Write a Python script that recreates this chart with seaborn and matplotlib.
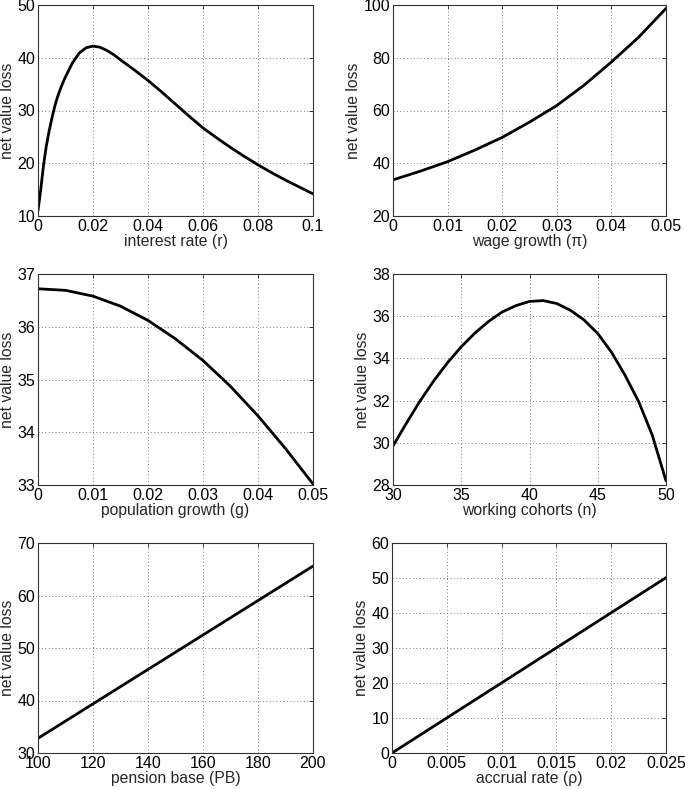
import matplotlib
matplotlib.use("Agg")
import matplotlib.pyplot as plt
import seaborn as sns
import pandas as pd

# interest rate (r)
rate_x = [0, 0.001, 0.002, 0.003, 0.004, 0.005, 0.006, 0.007, 0.008, 0.009, 0.01,
          0.0125, 0.015, 0.0175, 0.02, 0.0225, 0.025, 0.0275, 0.03, 0.035, 0.04,
          0.045, 0.05, 0.055, 0.06, 0.065, 0.07, 0.075, 0.08, 0.085, 0.09, 0.095, 0.1]
rate_y = [11.0, 15.0, 19.6, 23.2, 26.0, 28.4, 30.6, 32.4, 33.9, 35.2, 36.4,
          39.0, 40.9, 41.9, 42.2, 42.0, 41.4, 40.6, 39.6, 37.7, 35.7,
          33.5, 31.2, 28.9, 26.7, 24.8, 23.0, 21.3, 19.7, 18.2, 16.8, 15.5, 14.2]

# wage growth (pi)
wage_x = [0, 0.005, 0.01, 0.015, 0.02, 0.025, 0.03, 0.035, 0.04, 0.045, 0.05]
wage_y = [33.7, 37.0, 40.6, 45.0, 49.8, 55.6, 61.9, 69.6, 78.4, 87.8, 98.7]

# population growth (g)
pop_x = [0, 0.005, 0.01, 0.015, 0.02, 0.025, 0.03, 0.035, 0.04, 0.045, 0.05]
pop_y = [36.72, 36.69, 36.58, 36.39, 36.12, 35.77, 35.36, 34.87, 34.31, 33.69, 33.02]

# working cohorts (n)
cohort_x = list(range(30, 51))
cohort_y = [29.85, 30.95, 32.0, 32.95, 33.8, 34.55, 35.2, 35.75, 36.2, 36.5, 36.7,
            36.74, 36.6, 36.28, 35.82, 35.18, 34.3, 33.2, 31.95, 30.35, 28.2]

# pension base (PB)
pb_x = [100, 120, 140, 160, 180, 200]
pb_y = [32.8, 39.36, 45.92, 52.48, 59.04, 65.6]

# accrual rate (rho)
acc_x = [0, 0.005, 0.01, 0.015, 0.02, 0.025]
acc_y = [0.0, 10.02, 20.04, 30.06, 40.08, 50.1]

panels = [
    (rate_x, rate_y, "interest rate (r)", (0, 0.1), [0, 0.02, 0.04, 0.06, 0.08, 0.1],
     ["0", "0.02", "0.04", "0.06", "0.08", "0.1"], (10, 50), [10, 20, 30, 40, 50]),
    (wage_x, wage_y, "wage growth (\u03c0)", (0, 0.05), [0, 0.01, 0.02, 0.03, 0.04, 0.05],
     ["0", "0.01", "0.02", "0.03", "0.04", "0.05"], (20, 100), [20, 40, 60, 80, 100]),
    (pop_x, pop_y, "population growth (g)", (0, 0.05), [0, 0.01, 0.02, 0.03, 0.04, 0.05],
     ["0", "0.01", "0.02", "0.03", "0.04", "0.05"], (33, 37), [33, 34, 35, 36, 37]),
    (cohort_x, cohort_y, "working cohorts (n)", (30, 50), [30, 35, 40, 45, 50],
     ["30", "35", "40", "45", "50"], (28, 38), [28, 30, 32, 34, 36, 38]),
    (pb_x, pb_y, "pension base (PB)", (100, 200), [100, 120, 140, 160, 180, 200],
     ["100", "120", "140", "160", "180", "200"], (30, 70), [30, 40, 50, 60, 70]),
    (acc_x, acc_y, "accrual rate (\u03c1)", (0, 0.025), [0, 0.005, 0.01, 0.015, 0.02, 0.025],
     ["0", "0.005", "0.01", "0.015", "0.02", "0.025"], (0, 60), [0, 10, 20, 30, 40, 50, 60]),
]

sns.set_style("white")
plt.rcParams['font.family'] = ['Liberation Sans', 'DejaVu Sans']

W, H = 685, 789
fig = plt.figure(figsize=(W / 100, H / 100), dpi=100)

# axes boxes in pixels: left, top, right, bottom
boxes = [
    (38, 5, 313, 216), (393, 5, 666, 216),
    (38, 274, 313, 485), (393, 274, 666, 485),
    (38, 543, 313, 753), (392, 543, 666, 753),
]

for (x, y, xlabel, xlim, xticks, xtl, ylim, yticks), (l, t, r, b) in zip(panels, boxes):
    ax = fig.add_axes([l / W, 1 - b / H, (r - l) / W, (b - t) / H])
    df = pd.DataFrame({"x": x, "y": y})
    sns.lineplot(data=df, x="x", y="y", ax=ax, color="black", linewidth=2.0)
    ax.set_xlim(*xlim)
    ax.set_ylim(*ylim)
    ax.set_xticks(xticks)
    ax.set_xticklabels(xtl)
    ax.set_yticks(yticks)
    ax.set_xlabel(xlabel, fontsize=11.3, labelpad=0)
    ax.set_ylabel("net value loss", fontsize=11.3, labelpad=2)
    ax.tick_params(direction="in", length=3, width=0.6, labelsize=11.5, pad=2,
                   top=True, right=True, colors="#222222", labelcolor="black")
    ax.grid(True, linestyle=(0, (1, 2.5)), color="#777777", linewidth=0.7)
    for sp in ax.spines.values():
        sp.set_visible(True)
        sp.set_color("#333333")
        sp.set_linewidth(0.8)

fig.savefig("out.png", dpi=100, facecolor="white")
